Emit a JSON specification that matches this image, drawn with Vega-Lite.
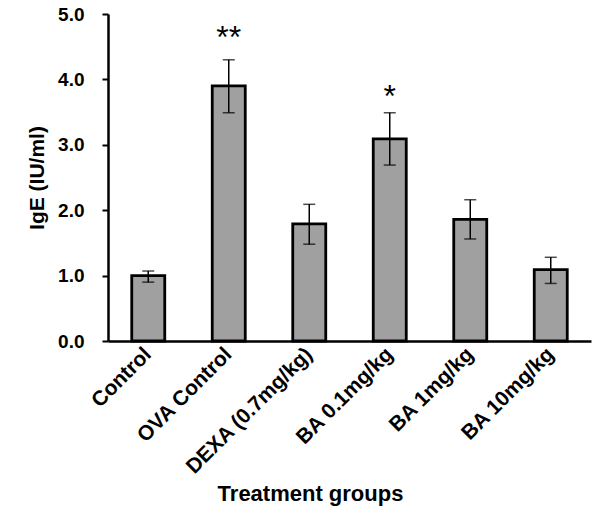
{
  "$schema": "https://vega.github.io/schema/vega-lite/v6.json",
  "width": 483,
  "height": 327,
  "autosize": {"type": "none"},
  "padding": {"left": 108, "top": 14, "right": 9, "bottom": 168},
  "background": "white",
  "config": {
    "view": {"stroke": null},
    "font": "Liberation Sans"
  },
  "data": {
    "values": [
      {"group": "Control", "value": 1.0, "lo": 0.9, "hi": 1.07, "sig": "", "sigpos": 0},
      {"group": "OVA Control", "value": 3.9, "lo": 3.49, "hi": 4.3, "sig": "**", "sigpos": 4.71},
      {"group": "DEXA (0.7mg/kg)", "value": 1.79, "lo": 1.48, "hi": 2.09, "sig": "", "sigpos": 0},
      {"group": "BA 0.1mg/kg", "value": 3.09, "lo": 2.69, "hi": 3.49, "sig": "*", "sigpos": 3.81},
      {"group": "BA 1mg/kg", "value": 1.86, "lo": 1.56, "hi": 2.16, "sig": "", "sigpos": 0},
      {"group": "BA 10mg/kg", "value": 1.09, "lo": 0.88, "hi": 1.28, "sig": "", "sigpos": 0}
    ]
  },
  "encoding": {
    "x": {
      "field": "group",
      "type": "nominal",
      "sort": null,
      "scale": {"paddingInner": 0.59, "paddingOuter": 0.295},
      "axis": {
        "title": "Treatment groups",
        "titleFont": "Liberation Sans",
        "titleFontSize": 22,
        "titleFontWeight": "bold",
        "titleColor": "black",
        "titleX": 202,
        "titleY": 152,
        "titleBaseline": "middle",
        "labelAngle": -45,
        "labelAlign": "right",
        "labelBaseline": "middle",
        "labelFont": "Liberation Sans",
        "labelFontSize": 21,
        "labelFontWeight": "bold",
        "labelColor": "black",
        "labelPadding": 10,
        "labelLimit": 300,
        "labelOverlap": false,
        "ticks": false,
        "domainColor": "black",
        "domainWidth": 2.5
      }
    }
  },
  "layer": [
    {
      "mark": {"type": "bar", "fill": "#a0a0a0", "stroke": "black", "strokeWidth": 2.8},
      "encoding": {
        "y": {
          "field": "value",
          "type": "quantitative",
          "scale": {"domain": [0, 5]},
          "axis": {
            "title": "IgE (IU/ml)",
            "titleFont": "Liberation Sans",
            "titleFontSize": 21,
            "titleFontWeight": "bold",
            "titleColor": "black",
            "titlePadding": 10,
            "values": [0, 1, 2, 3, 4, 5],
            "format": ".1f",
            "labelFont": "Liberation Sans",
            "labelFontSize": 19,
            "labelFontWeight": "bold",
            "labelColor": "black",
            "labelPadding": 18,
            "tickColor": "black",
            "tickWidth": 2,
            "tickSize": 6,
            "domainColor": "black",
            "domainWidth": 2.5,
            "grid": false
          }
        }
      }
    },
    {
      "mark": {"type": "rule", "stroke": "black", "strokeWidth": 1.5},
      "encoding": {
        "y": {"field": "lo", "type": "quantitative"},
        "y2": {"field": "hi"}
      }
    },
    {
      "mark": {"type": "tick", "color": "black", "size": 12, "thickness": 1.5},
      "encoding": {"y": {"field": "lo", "type": "quantitative"}}
    },
    {
      "mark": {"type": "tick", "color": "black", "size": 12, "thickness": 1.5},
      "encoding": {"y": {"field": "hi", "type": "quantitative"}}
    },
    {
      "mark": {"type": "text", "fontSize": 32, "font": "Liberation Sans", "baseline": "middle", "dy": 5, "letterSpacing": 5, "color": "black"},
      "encoding": {
        "y": {"field": "sigpos", "type": "quantitative"},
        "text": {"field": "sig"}
      }
    }
  ]
}
